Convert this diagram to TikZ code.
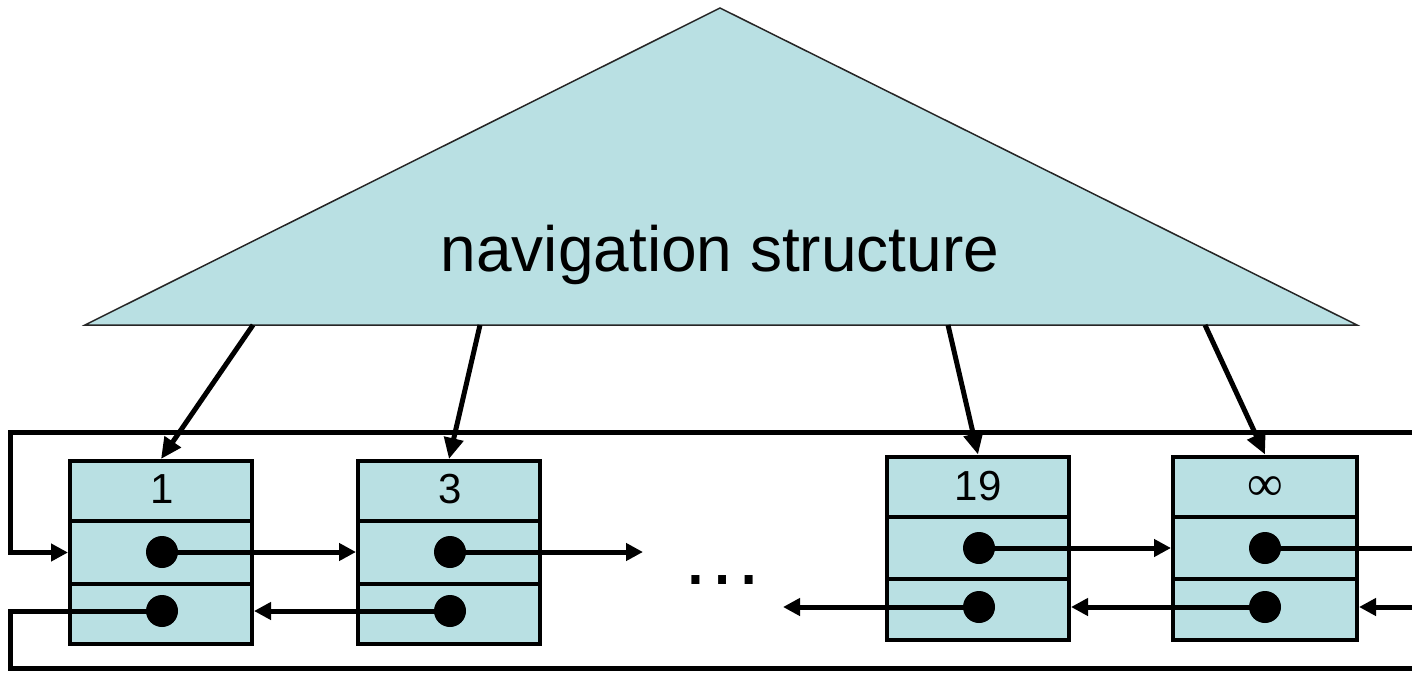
\documentclass[tikz,border=0pt]{standalone}
\usepackage{fontspec}
\setmainfont{Liberation Sans}
\newfontfamily\symfont{Liberation Serif}
\usetikzlibrary{arrows.meta,calc}
\definecolor{nav}{HTML}{B9E0E3}
\begin{document}
\begin{tikzpicture}[x=1pt,y=-1pt,
 box/.style={draw=black,fill=nav,line width=4pt,minimum width=182pt,minimum height=183pt,inner sep=0pt},
 divider/.style={line width=4pt},
 dot/.style={circle,fill=black,inner sep=0pt,minimum size=32pt},
 link/.style={line width=5pt,-{Triangle[length=17pt,width=17pt]}},
 plain/.style={line width=5pt},
 ptr/.style={line width=5pt,-{Triangle[length=21pt,width=19pt]}},
 keytext/.style={font=\fontsize{42}{50}\selectfont,anchor=base,inner sep=0pt},
]
\useasboundingbox (0,0) rectangle (1412,674);
% navigation triangle
\draw[fill=nav,line width=1.5pt,draw=black!85] (720,8) -- (1357,325) -- (85,325) -- cycle;
\node[font=\fontsize{64}{76}\selectfont,anchor=base,inner sep=0pt] (navlabel) at (720,271) {navigation structure};
% boxes
\node[box] (b1) at (161,552.5) {};
\node[box] (b2) at (449,552.5) {};
\node[box] (b3) at (978,548) {};
\node[box,minimum width=184pt] (b4) at (1265,548) {};
\foreach \b in {b1,b2,b3,b4}{
  \draw[divider] ($(\b.north west)!1/3!(\b.south west)$) -- ($(\b.north east)!1/3!(\b.south east)$);
  \draw[divider] ($(\b.north west)!2/3!(\b.south west)$) -- ($(\b.north east)!2/3!(\b.south east)$);
}
% keys
\node[keytext] (k1) at (162,503) {1};
\node[keytext] (k2) at (450,503) {3};
\node[keytext] (k3) at (978,500) {19};
\node[keytext,font=\symfont\fontsize{50}{56}\selectfont] (k4) at (1265,500) {∞};
% pointer dots
\node[dot] (p1) at (162,552) {};
\node[dot] (q1) at (162,611) {};
\node[dot] (p2) at (450,552) {};
\node[dot] (q2) at (450,611) {};
\node[dot] (p3) at (979,548) {};
\node[dot] (q3) at (979,607) {};
\node[dot] (p4) at (1265,548) {};
\node[dot] (q4) at (1265,607) {};
% ellipsis
\node[font=\fontsize{84}{90}\selectfont,anchor=base,inner sep=0pt] (dots) at (722,584) {…};
% free ends
\coordinate (e2) at (643,552);
\coordinate (e3) at (783,607);
\coordinate (r1) at (1412,548);
\coordinate (r2) at (1412,607);
\coordinate (r3) at (1412,432);
\coordinate (l1) at (10,432);
\coordinate (l2) at (10,668);
\coordinate (r4) at (1412,668);
\coordinate (t1) at (253,325);
\coordinate (t2) at (480,325);
\coordinate (t3) at (948,325);
\coordinate (t4) at (1205,325);
% next pointers
\draw[link] (p1.center) -- (b2.west |- p1.center);
\draw[link] (p2.center) -- (e2);
\draw[link] (p3.center) -- (b4.west |- p3.center);
\draw[plain] (p4.center) -- (r1);
% prev pointers
\draw[link] (q2.center) -- (b1.east |- q2.center);
\draw[link] (q3.center) -- (e3);
\draw[link] (q4.center) -- (b3.east |- q4.center);
\draw[link] (r2) -- (b4.east |- r2);
% wrap-around
\draw[link] (r3) -- (l1) |- (b1.west);
\draw[plain] (q1.center) -| (l2) -- (r4);
% navigation pointers
\draw[ptr] (t1) -- (b1.north);
\draw[ptr] (t2) -- (b2.north);
\draw[ptr] (t3) -- (b3.north);
\draw[ptr] (t4) -- (b4.north);
\end{tikzpicture}
\end{document}
